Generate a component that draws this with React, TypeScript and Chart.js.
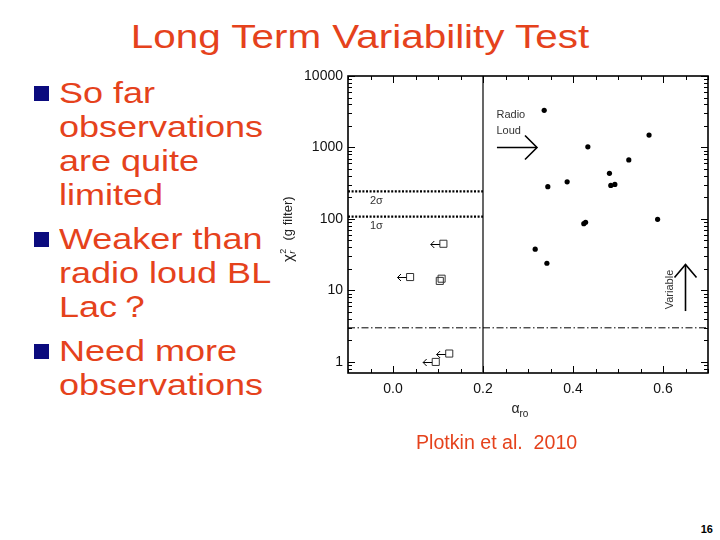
import React, { useEffect, useRef } from "react";
import { Chart, registerables } from "chart.js";

Chart.register(...registerables);

const FONT = "'Liberation Sans', Arial, Helvetica, sans-serif";
const TEXT_RED = "#E5421C";

const TITLE = "Long Term Variability Test";
const BULLET_PARAS = [
  ["So far", "observations", "are quite", "limited"],
  ["Weaker than", "radio loud BL", "Lac？"],
  ["Need more", "observations"],
];
const CITATION = "Plotkin et al.  2010";
const PAGE_NUMBER = "16";

// Detections: alpha_ro vs reduced chi^2 (g filter)
const detX = [0.336, 0.569, 0.433, 0.524, 0.481, 0.344, 0.387, 0.484, 0.493, 0.588, 0.424, 0.428, 0.316, 0.342];
const detY = [3310, 1490, 1020, 670, 435, 283, 331, 295, 304, 99, 86, 90, 37.8, 24];

// Upper limits in alpha_ro (open squares with left arrows)
const limX = [0.112, 0.038, 0.125, 0.095];
const limY = [45, 15.4, 1.31, 1.0];

// Overlapping open squares (no arrow)
const pairX = [0.108, 0.104];
const pairY = [14.6, 13.6];

// Axes
const X_MIN = -0.1;
const X_MAX = 0.7;
const Y_MIN = 0.725;
const Y_MAX = 10000;
const xTickValues = [0, 0.2, 0.4, 0.6];
const yTickValues = [1, 10, 100, 1000, 10000];

// Reference lines
const RADIO_LOUD_CUT = 0.2;
const SIGMA2_LEVEL = 243;
const SIGMA1_LEVEL = 108;
const VARIABLE_LEVEL = 3.0;

// Annotations (data coordinates)
const annTexts = ["Radio", "Loud", "2σ", "1σ"];
const annX = [0.23, 0.23, -0.037, -0.037];
const annY = [2860, 1727, 176, 79];
const annAlign: CanvasTextAlign[] = ["left", "left", "center", "center"];
const radioArrowX = [0.231, 0.32];
const radioArrowY = [1000, 1000];
const variableArrowX = [0.65, 0.65];
const variableArrowY = [5.15, 23];
const variableLabelX = 0.615;
const variableLabelY = 10.3;
const xTitleCenter = 0.282;

const pts = (xs: number[], ys: number[]) => xs.map((x, i) => ({ x, y: ys[i] }));

function drawHead(ctx: CanvasRenderingContext2D, x: number, y: number, dx: number, dy: number, len: number, half: number) {
  const nx = -dy, ny = dx;
  ctx.beginPath();
  ctx.moveTo(x - dx * len + nx * half, y - dy * len + ny * half);
  ctx.lineTo(x, y);
  ctx.lineTo(x - dx * len - nx * half, y - dy * len - ny * half);
  ctx.stroke();
}

const slidePlugin = {
  id: "slidePlugin",
  afterDatasetsDraw(chart: any) {
    const ctx: CanvasRenderingContext2D = chart.ctx;
    const { left, right, top, bottom } = chart.chartArea;
    const xs = chart.scales.x;
    const ys = chart.scales.y;
    ctx.save();
    ctx.strokeStyle = "#000";
    ctx.fillStyle = "#000";

    // frame
    ctx.lineWidth = 1.6;
    ctx.strokeRect(left, top, right - left, bottom - top);

    // ticks (inward)
    ctx.lineWidth = 1;
    const major = 7, minor = 4;
    for (let v = -0.1; v <= 0.7001; v += 0.05) {
      const r = Math.round(v * 100) / 100;
      const isMajor = Math.abs(Math.round(r / 0.2) * 0.2 - r) < 1e-6;
      const px = Math.round(xs.getPixelForValue(r)) + 0.5;
      const L = isMajor ? major : minor;
      ctx.beginPath();
      ctx.moveTo(px, bottom); ctx.lineTo(px, bottom - L);
      ctx.moveTo(px, top); ctx.lineTo(px, top + L);
      ctx.stroke();
    }
    for (let d = -1; d <= 4; d++) {
      for (let m = 1; m <= 9; m++) {
        const v = m * Math.pow(10, d);
        if (v < Y_MIN || v > Y_MAX) continue;
        const py = Math.round(ys.getPixelForValue(v)) + 0.5;
        const L = m === 1 ? major : minor;
        ctx.beginPath();
        ctx.moveTo(left, py); ctx.lineTo(left + L, py);
        ctx.moveTo(right, py); ctx.lineTo(right - L, py);
        ctx.stroke();
      }
    }

    // upper-limit arrows
    ctx.lineWidth = 1;
    limX.forEach((x, i) => {
      const px = xs.getPixelForValue(x);
      const py = Math.round(ys.getPixelForValue(limY[i])) + 0.5;
      const start = px - 3.6;
      const tip = start - 9;
      ctx.beginPath();
      ctx.moveTo(start, py); ctx.lineTo(tip, py);
      ctx.stroke();
      drawHead(ctx, tip, py, -1, 0, 3.5, 3.5);
    });

    // Radio loud arrow
    ctx.lineWidth = 1.6;
    {
      const x0 = xs.getPixelForValue(radioArrowX[0]);
      const x1 = xs.getPixelForValue(radioArrowX[1]);
      const y0 = ys.getPixelForValue(radioArrowY[0]);
      ctx.beginPath();
      ctx.moveTo(x0, y0); ctx.lineTo(x1, y0);
      ctx.stroke();
      drawHead(ctx, x1, y0, 1, 0, 12, 12);
    }
    // Variable arrow
    {
      const x0 = xs.getPixelForValue(variableArrowX[0]);
      const y0 = ys.getPixelForValue(variableArrowY[0]);
      const y1 = ys.getPixelForValue(variableArrowY[1]);
      ctx.beginPath();
      ctx.moveTo(x0, y0); ctx.lineTo(x0, y1);
      ctx.stroke();
      drawHead(ctx, x0, y1, 0, -1, 13, 11);
    }

    // annotation texts
    ctx.fillStyle = "#333";
    ctx.font = `11px ${FONT}`;
    ctx.textBaseline = "middle";
    annTexts.forEach((t, i) => {
      ctx.textAlign = annAlign[i];
      ctx.fillText(t, xs.getPixelForValue(annX[i]), ys.getPixelForValue(annY[i]));
    });
    {
      const vx = xs.getPixelForValue(variableLabelX);
      const vy = ys.getPixelForValue(variableLabelY);
      ctx.save();
      ctx.translate(vx, vy);
      ctx.rotate(-Math.PI / 2);
      ctx.textAlign = "center";
      ctx.fillText("Variable", 0, 0);
      ctx.restore();
    }

    // y axis title: chi^2_r (g filter)
    ctx.fillStyle = "#222";
    {
      const cx = 8;
      const cy = (top + bottom) / 2 + 5;
      ctx.save();
      ctx.translate(cx, cy);
      ctx.rotate(-Math.PI / 2);
      ctx.textAlign = "left";
      ctx.textBaseline = "alphabetic";
      const fMain = `15px ${FONT}`;
      const fSmall = `9px ${FONT}`;
      const fSub = `italic 9px ${FONT}`;
      const fRest = `13px ${FONT}`;
      ctx.font = fMain; const wChi = ctx.measureText("χ").width;
      ctx.font = fSmall; const wSup = ctx.measureText("2").width;
      ctx.font = fSub; const wSub = ctx.measureText("r").width;
      ctx.font = fRest; const wRest = ctx.measureText("  (g filter)").width;
      const wScript = Math.max(wSup, wSub) + 1;
      const total = wChi + wScript + wRest;
      let x = -total / 2;
      const base = 4.5;
      ctx.font = fMain; ctx.fillText("χ", x, base); x += wChi + 0.5;
      ctx.font = fSmall; ctx.fillText("2", x, base - 7);
      ctx.font = fSub; ctx.fillText("r", x, base + 2);
      x += wScript;
      ctx.font = fRest; ctx.fillText("  (g filter)", x, base - 1);
      ctx.restore();
    }

    // x axis title: alpha_ro
    {
      ctx.textAlign = "left";
      ctx.textBaseline = "alphabetic";
      ctx.font = `14px ${FONT}`;
      const wA = ctx.measureText("α").width;
      ctx.font = `10px ${FONT}`;
      const wS = ctx.measureText("ro").width;
      const cx = xs.getPixelForValue(xTitleCenter);
      const x0 = cx - (wA + wS) / 2;
      const by = bottom + 40;
      ctx.font = `14px ${FONT}`;
      ctx.fillText("α", x0, by);
      ctx.font = `10px ${FONT}`;
      ctx.fillText("ro", x0 + wA, by + 4);
    }
    ctx.restore();
  },
};

function PlotkinChart() {
  const ref = useRef<HTMLCanvasElement | null>(null);
  useEffect(() => {
    if (!ref.current) return;
    const lineDs = (data: any[], dash: number[], width: number) => ({
      type: "scatter" as const,
      data,
      showLine: true,
      borderColor: "#000",
      borderWidth: width,
      borderDash: dash,
      pointRadius: 0,
      fill: false,
      order: 5,
    });
    const chart = new Chart(ref.current, {
      type: "scatter",
      data: {
        datasets: [
          lineDs([{ x: RADIO_LOUD_CUT, y: Y_MIN }, { x: RADIO_LOUD_CUT, y: Y_MAX }], [], 1.2) as any,
          lineDs([{ x: X_MIN, y: SIGMA2_LEVEL }, { x: RADIO_LOUD_CUT, y: SIGMA2_LEVEL }], [2, 1.6], 2.2) as any,
          lineDs([{ x: X_MIN, y: SIGMA1_LEVEL }, { x: RADIO_LOUD_CUT, y: SIGMA1_LEVEL }], [2, 1.6], 2.2) as any,
          lineDs([{ x: X_MIN, y: VARIABLE_LEVEL }, { x: X_MAX, y: VARIABLE_LEVEL }], [7, 2.5, 1.5, 2.5], 1) as any,
          {
            data: pts(detX, detY),
            pointRadius: 2.6,
            pointBackgroundColor: "#000",
            pointBorderWidth: 0,
            showLine: false,
            order: 1,
          },
          {
            data: pts(limX, limY),
            pointStyle: "rect",
            pointRadius: 5,
            pointBackgroundColor: "#fff",
            pointBorderColor: "#333",
            pointBorderWidth: 1,
            showLine: false,
            order: 2,
          },
          {
            data: pts(pairX, pairY),
            pointStyle: "rect",
            pointRadius: 5,
            pointBackgroundColor: "rgba(255,255,255,0)",
            pointBorderColor: "#333",
            pointBorderWidth: 1,
            showLine: false,
            order: 2,
          },
        ],
      },
      options: {
        animation: false,
        responsive: false,
        maintainAspectRatio: false,
        layout: { padding: { left: 0, right: 12, top: 16, bottom: 0 } },
        plugins: { legend: { display: false }, tooltip: { enabled: false }, title: { display: false } },
        scales: {
          x: {
            type: "linear",
            min: X_MIN,
            max: X_MAX,
            grid: { display: false, drawTicks: false },
            border: { display: false },
            ticks: {
              color: "#111",
              font: { family: FONT, size: 14 },
              padding: 8,
              maxRotation: 0,
              autoSkip: false,
              callback: (v: any) => Number(v).toFixed(1),
            },
            afterBuildTicks: (s: any) => {
              s.ticks = xTickValues.map((value) => ({ value }));
            },
            afterFit: (s: any) => {
              s.height = 67;
            },
          },
          y: {
            type: "logarithmic",
            min: Y_MIN,
            max: Y_MAX,
            grid: { display: false, drawTicks: false },
            border: { display: false },
            ticks: {
              color: "#111",
              font: { family: FONT, size: 14 },
              padding: 5,
              autoSkip: false,
              callback: (v: any) => String(v),
            },
            afterBuildTicks: (s: any) => {
              s.ticks = yTickValues.map((value) => ({ value }));
            },
            afterFit: (s: any) => {
              s.width = 68;
            },
          },
        },
      },
      plugins: [slidePlugin],
    });
    return () => chart.destroy();
  }, []);
  return (
    <canvas
      ref={ref}
      width={440}
      height={380}
      style={{ position: "absolute", left: 280, top: 60, width: 440, height: 380 }}
    />
  );
}

export default function App() {
  const paraBaselines = [103, 249, 361];
  const bulletTops = [86, 232, 344];
  return (
    <div
      style={{
        position: "absolute",
        left: 0,
        top: 0,
        width: 720,
        height: 540,
        background: "#fff",
        overflow: "hidden",
        fontFamily: FONT,
      }}
    >
      <div
        style={{
          position: "absolute",
          left: 0,
          top: 17,
          width: 720,
          textAlign: "center",
          fontSize: 33,
          lineHeight: "40px",
          color: TEXT_RED,
          whiteSpace: "pre",
          transform: "scaleX(1.225)",
          transformOrigin: "360px 0",
        }}
      >
        {TITLE}
      </div>

      {BULLET_PARAS.map((lines, i) => (
        <React.Fragment key={i}>
          <div
            style={{
              position: "absolute",
              left: 34,
              top: bulletTops[i],
              width: 15,
              height: 15,
              background: "#0B0B7E",
            }}
          />
          <div
            style={{
              position: "absolute",
              left: 59,
              top: paraBaselines[i] - 27.4,
              fontSize: 30,
              lineHeight: "34px",
              color: TEXT_RED,
              whiteSpace: "pre",
              transform: "scaleX(1.2)",
              transformOrigin: "0 0",
            }}
          >
            {lines.map((l, j) => (
              <div key={j}>{l}</div>
            ))}
          </div>
        </React.Fragment>
      ))}

      <PlotkinChart />

      <div
        style={{
          position: "absolute",
          left: 416,
          top: 431,
          fontSize: 19.6,
          lineHeight: "22px",
          color: TEXT_RED,
          whiteSpace: "pre",
        }}
      >
        {CITATION}
      </div>

      <div
        style={{
          position: "absolute",
          right: 7,
          top: 523,
          fontSize: 11,
          lineHeight: "13px",
          fontWeight: "bold",
          color: "#000",
        }}
      >
        {PAGE_NUMBER}
      </div>
    </div>
  );
}
